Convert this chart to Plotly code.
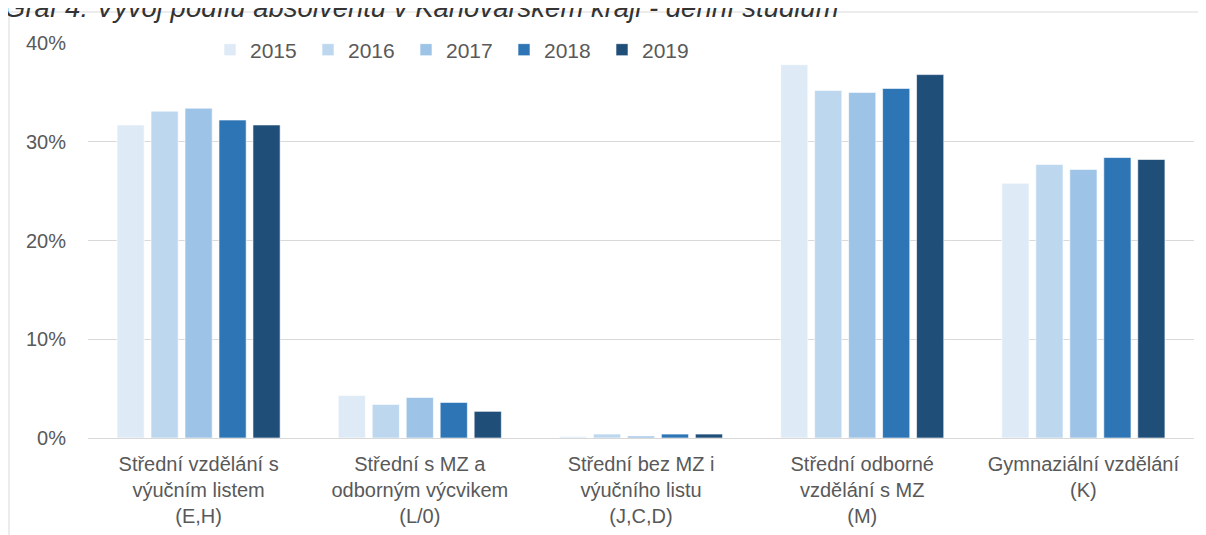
import plotly.graph_objects as go

categories = [
    "Střední vzdělání s<br>výučním listem<br>(E,H)",
    "Střední s MZ a<br>odborným výcvikem<br>(L/0)",
    "Střední bez MZ i<br>výučního listu<br>(J,C,D)",
    "Střední odborné<br>vzdělání s MZ<br>(M)",
    "Gymnaziální vzdělání<br>(K)",
]
years = ["2015", "2016", "2017", "2018", "2019"]
values = {
    "2015": [0.317, 0.043, 0.0015, 0.378, 0.258],
    "2016": [0.331, 0.034, 0.004, 0.352, 0.277],
    "2017": [0.334, 0.041, 0.002, 0.350, 0.272],
    "2018": [0.322, 0.036, 0.004, 0.354, 0.284],
    "2019": [0.317, 0.027, 0.004, 0.368, 0.282],
}
colors = ["#DEEBF7", "#BDD7EE", "#9DC3E6", "#2E75B6", "#1F4E79"]
title_text = "Graf 4: Vývoj podílu absolventů v Karlovarském kraji - denní studium"

W, H = 1206, 535
ML, MR, MT, MB = 80, 20, 35, 105
PW, PH = W - ML - MR, H - MT - MB
FONT = "Liberation Sans, Arial, sans-serif"
TXT = "#595959"


def px_x(x):
    return (x - ML) / PW


def px_y(y):
    return 1 - (y - MT) / PH


fig = go.Figure()
for y, c in zip(years, colors):
    fig.add_trace(go.Bar(
        name=y, x=categories, y=values[y],
        marker=dict(color=c, line=dict(color="rgba(255,255,255,0.6)", width=1)),
    ))

fig.update_layout(
    width=W, height=H,
    margin=dict(l=ML, r=MR, t=MT, b=MB, autoexpand=False),
    paper_bgcolor="white", plot_bgcolor="white",
    barmode="group", bargap=0.232, bargroupgap=0.2,
    font=dict(family=FONT, size=20, color=TXT),
    showlegend=True,
    legend=dict(
        orientation="h", x=px_x(202), xanchor="left",
        y=px_y(42), yanchor="middle",
        bgcolor="white", borderwidth=0,
        font=dict(family=FONT, size=21, color=TXT),
        itemwidth=30, traceorder="normal",
        entrywidth=53, entrywidthmode="pixels",
    ),
    xaxis=dict(
        domain=[0, 1], automargin=False,
        showgrid=False, showline=False, ticks="",
        tickfont=dict(family=FONT, size=20, color=TXT),
        ticklabelstandoff=12,
    ),
    yaxis=dict(
        domain=[0, 1], automargin=False,
        range=[0, 0.40], dtick=0.10, tickformat=".0%",
        showgrid=True, gridcolor="#D9D9D9", gridwidth=1,
        zeroline=True, zerolinecolor="#D9D9D9", zerolinewidth=1,
        showline=False, ticks="",
        tickfont=dict(family=FONT, size=20, color=TXT),
        ticklabelstandoff=21,
    ),
    shapes=[dict(
        type="rect", xref="paper", yref="paper",
        x0=px_x(1), x1=px_x(W + 30), y0=px_y(H + 30), y1=px_y(4),
        line=dict(color="#D9D9D9", width=1), fillcolor="rgba(0,0,0,0)",
        layer="below",
    )],
    annotations=[dict(
        text=title_text, xref="paper", yref="paper",
        x=px_x(-6), xanchor="left", y=px_y(17), yanchor="bottom",
        showarrow=False,
        font=dict(family=FONT, size=27.5, color="#333333", style="italic"),
    )],
)

fig.write_html("out.html")
